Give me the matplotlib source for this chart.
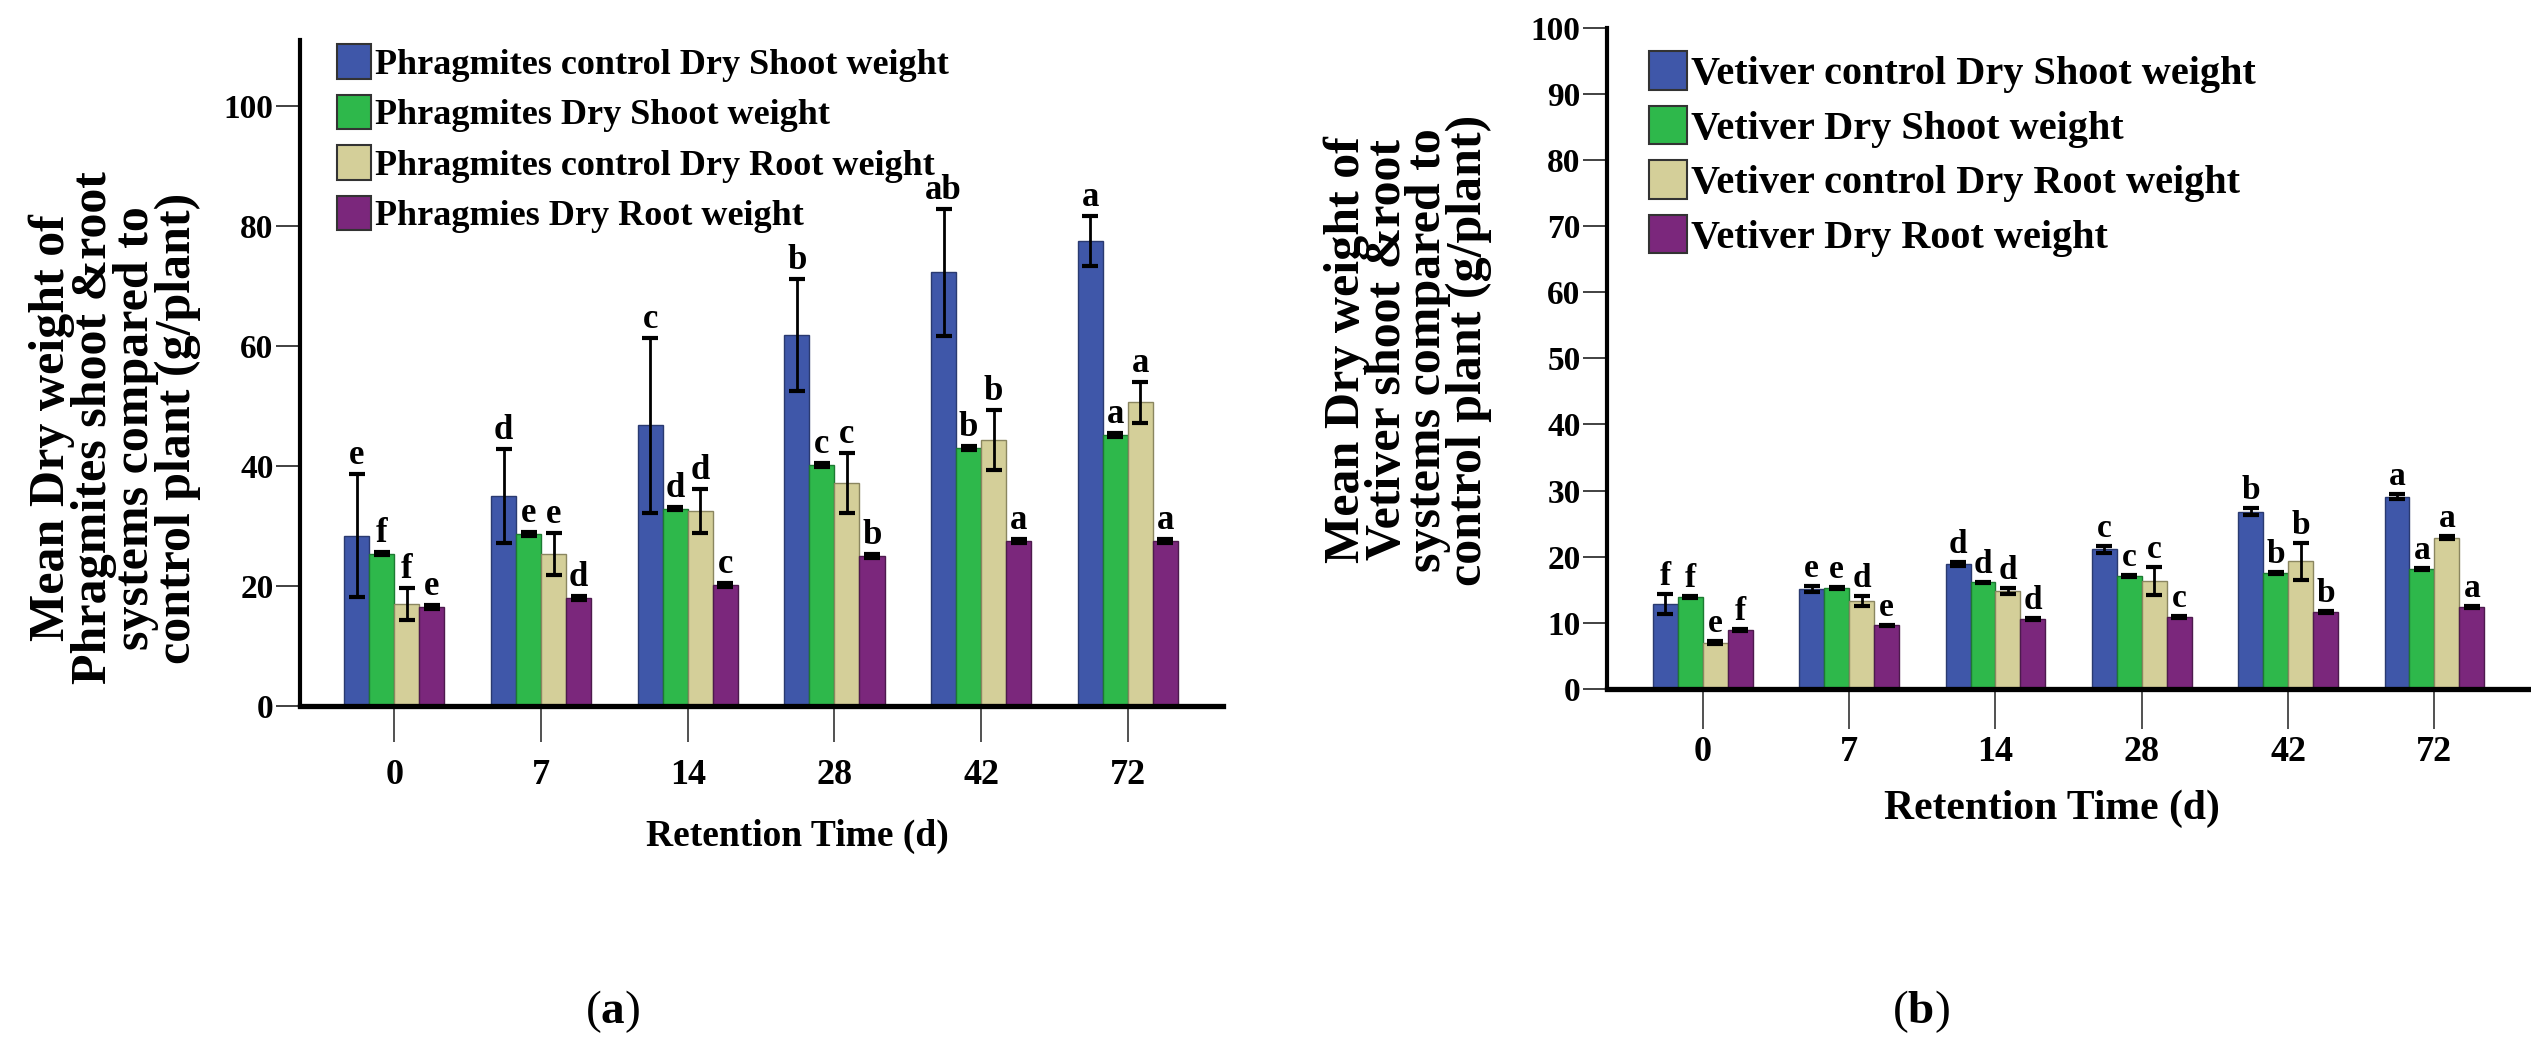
import matplotlib
matplotlib.use("Agg")
import matplotlib.pyplot as plt
import numpy as np

plt.rcParams['font.family'] = ['Liberation Serif', 'DejaVu Serif']
plt.rcParams['font.weight'] = 'bold'
plt.rcParams['mathtext.fontset'] = 'custom'
plt.rcParams['mathtext.bf'] = 'Liberation Serif:bold'
plt.rcParams['mathtext.rm'] = 'Liberation Serif'

days = ['0', '7', '14', '28', '42', '72']

colors = ['#3F57A9', '#2EB84B', '#D4CF99', '#7B277C']
edges = ['#2a3a70', '#1d7a32', '#8a8660', '#4d1a4d']

# Phragmites (panel a)
phr_labels = ['Phragmites control Dry Shoot weight', 'Phragmites Dry Shoot weight',
              'Phragmites control Dry Root weight', 'Phragmies Dry Root weight']
phr_ctrl_shoot = [28.4, 35.0, 46.8, 61.8, 72.3, 77.5]
phr_ctrl_shoot_err = [10.3, 7.8, 14.6, 9.3, 10.6, 4.2]
phr_shoot = [25.4, 28.7, 32.9, 40.2, 43.0, 45.2]
phr_shoot_err = [0.3, 0.3, 0.3, 0.3, 0.3, 0.3]
phr_ctrl_root = [17.0, 25.4, 32.5, 37.2, 44.3, 50.6]
phr_ctrl_root_err = [2.6, 3.5, 3.6, 5.0, 5.0, 3.4]
phr_root = [16.5, 18.0, 20.2, 25.0, 27.5, 27.5]
phr_root_err = [0.3, 0.3, 0.3, 0.3, 0.3, 0.3]
phr_letters = [['e', 'f', 'f', 'e'], ['d', 'e', 'e', 'd'], ['c', 'd', 'd', 'c'],
               ['b', 'c', 'c', 'b'], ['ab', 'b', 'b', 'a'], ['a', 'a', 'a', 'a']]

# Vetiver (panel b)
vet_labels = ['Vetiver control Dry Shoot weight', 'Vetiver Dry Shoot weight',
              'Vetiver control Dry Root weight', 'Vetiver Dry Root weight']
vet_ctrl_shoot = [12.8, 15.1, 18.9, 21.1, 26.8, 29.1]
vet_ctrl_shoot_err = [1.5, 0.5, 0.3, 0.5, 0.5, 0.4]
vet_shoot = [13.9, 15.3, 16.1, 17.1, 17.5, 18.1]
vet_shoot_err = [0.15, 0.15, 0.15, 0.15, 0.15, 0.15]
vet_ctrl_root = [7.0, 13.3, 14.8, 16.3, 19.3, 22.9]
vet_ctrl_root_err = [0.2, 0.8, 0.4, 2.1, 2.8, 0.2]
vet_root = [8.9, 9.6, 10.6, 10.9, 11.7, 12.4]
vet_root_err = [0.15, 0.15, 0.15, 0.15, 0.15, 0.15]
vet_letters = [['f', 'f', 'e', 'f'], ['e', 'e', 'd', 'e'], ['d', 'd', 'd', 'd'],
               ['c', 'c', 'c', 'c'], ['b', 'b', 'b', 'b'], ['a', 'a', 'a', 'a']]

W, H = 2531, 1062
fig = plt.figure(figsize=(W / 100, H / 100), dpi=100)


def fx(px):
    return px / W


def fy(py):
    return 1 - py / H


def panel(rect, series, errs, labels, letters, ylim, yticks, xlim,
          leg_xy, leg_fs, leg_sp, let_fs, xtick_len, xlab_pad):
    ax = fig.add_axes(rect)
    x = np.arange(len(days))
    bw = 0.1706
    handles = []
    for i, (vals, err) in enumerate(zip(series, errs)):
        pos = x + (i - 1.5) * bw
        b = ax.bar(pos, vals, bw, color=colors[i], edgecolor=edges[i], linewidth=1.0,
                   label=labels[i], zorder=2)
        handles.append(b)
        ax.errorbar(pos, vals, yerr=err, fmt='none', ecolor='black', elinewidth=2.0,
                    capsize=5.5, capthick=3.0, zorder=3)
        for j in range(len(days)):
            ax.text(pos[j], vals[j] + err[j] + 0.003 * (ylim[1] - ylim[0]), letters[j][i],
                    ha='center', va='bottom', fontsize=let_fs, fontweight='bold', zorder=4)
    ax.set_xlim(*xlim)
    ax.set_ylim(*ylim)
    ax.set_yticks(yticks)
    ax.set_yticklabels([str(v) for v in yticks], fontsize=24, fontweight='bold')
    ax.set_xticks(x)
    ax.set_xticklabels(days, fontsize=26, fontweight='bold')
    for s in ['top', 'right']:
        ax.spines[s].set_visible(False)
    ax.spines['left'].set_linewidth(3.0)
    ax.spines['bottom'].set_linewidth(3.8)
    ax.tick_params(axis='y', direction='out', length=17, width=1.3, pad=2, color='#333333')
    ax.tick_params(axis='x', direction='out', length=xtick_len, width=1.2, pad=xlab_pad,
                   color='#333333')
    leg = fig.legend(handles=handles, labels=labels, loc='upper left',
                     bbox_to_anchor=(fx(leg_xy[0]), fy(leg_xy[1])),
                     bbox_transform=fig.transFigure, frameon=False, borderpad=0,
                     borderaxespad=0, handlelength=0.95, handleheight=1.1,
                     handletextpad=0.1, labelspacing=leg_sp,
                     prop={'family': 'Liberation Serif', 'weight': 'bold', 'size': leg_fs})
    for p in leg.get_patches():
        p.set_edgecolor('#333333')
        p.set_linewidth(1.5)
    return ax


ax1 = panel([fx(300), fy(706), fx(1222.8) - fx(300), fy(40) - fy(706)],
            [phr_ctrl_shoot, phr_shoot, phr_ctrl_root, phr_root],
            [phr_ctrl_shoot_err, phr_shoot_err, phr_ctrl_root_err, phr_root_err],
            phr_labels, phr_letters, (0, 111), [0, 20, 40, 60, 80, 100],
            (-0.643, 5.647), (337, 44), 26, 0.36, 25, 26, 12)

ax2 = panel([fx(1607), fy(689), fx(2531) - fx(1607), fy(27.5) - fy(689)],
            [vet_ctrl_shoot, vet_shoot, vet_ctrl_root, vet_root],
            [vet_ctrl_shoot_err, vet_shoot_err, vet_ctrl_root_err, vet_root_err],
            vet_labels, vet_letters, (0, 100), list(range(0, 101, 10)),
            (-0.655, 5.66), (1649, 51), 29, 0.31, 24, 29, 5)

fig.text(fx(797), fy(836), 'Retention Time (d)', ha='center', va='center',
         fontsize=27, fontweight='bold')
fig.text(fx(2052), fy(809), 'Retention Time (d)', ha='center', va='center',
         fontsize=30, fontweight='bold')

fig.text(fx(115), fy(428),
         'Mean Dry weight of\nPhragmites shoot &root\nsystems compared to\ncontrol plant (g/plant)',
         rotation=90, ha='center', va='center', multialignment='center',
         fontsize=36, fontweight='bold', linespacing=0.88)
fig.text(fx(1408), fy(350),
         'Mean Dry weight of\nVetiver shoot &root\nsystems compared to\ncontrol plant (g/plant)',
         rotation=90, ha='center', va='center', multialignment='center',
         fontsize=36, fontweight='bold', linespacing=0.84)

fig.text(fx(613), fy(1012), r'($\mathbf{a}$)', ha='center', va='center',
         fontsize=34, fontweight='normal')
fig.text(fx(1921), fy(1012), r'($\mathbf{b}$)', ha='center', va='center',
         fontsize=34, fontweight='normal')

fig.savefig('out.png', dpi=100, facecolor='white')
